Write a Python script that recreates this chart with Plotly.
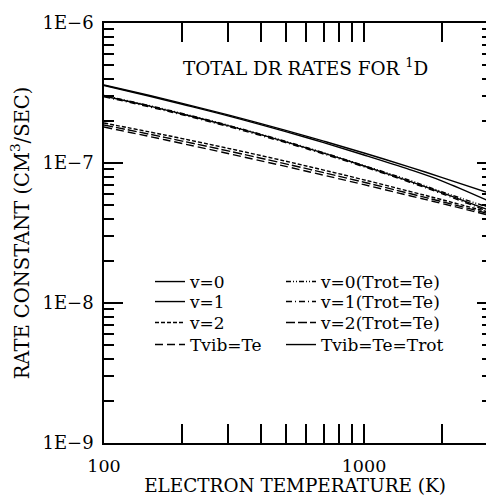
import plotly.graph_objects as go

# Electron temperature (K)
temperature = [100, 150, 200, 300, 500, 700, 1000, 1500, 2000, 3000]

# Rate constants (cm^3/s)
v0 = [3.607e-7, 3.035e-7, 2.669e-7, 2.207e-7, 1.711e-7, 1.433e-7, 1.179e-7, 9.35e-8, 7.87e-8, 6.14e-8]
v1 = [3.010e-7, 2.546e-7, 2.239e-7, 1.847e-7, 1.417e-7, 1.175e-7, 9.52e-8, 7.39e-8, 6.12e-8, 4.63e-8]
v2 = [1.931e-7, 1.666e-7, 1.494e-7, 1.273e-7, 1.030e-7, 8.90e-8, 7.58e-8, 6.27e-8, 5.46e-8, 4.47e-8]
tvib_te = [1.807e-7, 1.545e-7, 1.378e-7, 1.169e-7, 9.45e-8, 8.18e-8, 7.00e-8, 5.84e-8, 5.13e-8, 4.25e-8]
v0_trot = [3.035e-7, 2.567e-7, 2.258e-7, 1.862e-7, 1.428e-7, 1.184e-7, 9.60e-8, 7.51e-8, 6.22e-8, 4.83e-8]
v1_trot = [2.971e-7, 2.512e-7, 2.210e-7, 1.822e-7, 1.398e-7, 1.159e-7, 9.39e-8, 7.29e-8, 6.02e-8, 4.52e-8]
v2_trot = [1.868e-7, 1.604e-7, 1.434e-7, 1.220e-7, 9.86e-8, 8.53e-8, 7.29e-8, 6.05e-8, 5.29e-8, 4.36e-8]
tvib_te_trot = [3.578e-7, 2.996e-7, 2.626e-7, 2.171e-7, 1.675e-7, 1.398e-7, 1.141e-7, 8.97e-8, 7.43e-8, 5.38e-8]

series_names = ["v=0", "v=1", "v=2", "Tvib=Te",
                "v=0(Trot=Te)", "v=1(Trot=Te)", "v=2(Trot=Te)", "Tvib=Te=Trot"]
series_values = [v0, v1, v2, tvib_te, v0_trot, v1_trot, v2_trot, tvib_te_trot]

x_tick_vals = [100, 1000]
x_tick_text = ["100", "1000"]
x_minor_vals = [200, 300, 400, 500, 600, 700, 800, 900, 2000]
y_tick_vals = [1e-9, 1e-8, 1e-7, 1e-6]
y_tick_text = ["1E\u22129", "1E\u22128", "1E\u22127", "1E\u22126"]
y_minor_vals = [m * 10.0 ** e for e in (-9, -8, -7) for m in range(2, 10)]

dashes = ["solid", "solid", "4px,2px", "8px,4px",
          "5px,2px,1px,2px,1px,2px", "6px,3px,1px,3px", "9px,3px", "solid"]
legend_ids = ["legend", "legend2", "legend3", "legend4",
              "legend5", "legend6", "legend7", "legend8"]

FONT = "DejaVu Serif"
W, H = 486, 496
ML, MR, MT, MB = 104, 0, 23, 53
plot_w = W - ML - MR
plot_h = H - MT - MB

fig = go.Figure()
draw_order = [2, 3, 6, 4, 5, 1, 7, 0]
for i in draw_order:
    fig.add_trace(go.Scatter(
        x=temperature, y=series_values[i], mode="lines", name=series_names[i],
        line=dict(color="black", width=1.4, dash=dashes[i], shape="spline", smoothing=1.0),
        legend=legend_ids[i], showlegend=True,
    ))

# empty trace to anchor the right-hand axis
fig.add_trace(go.Scatter(x=[], y=[], yaxis="y2", showlegend=False, hoverinfo="skip"))

# legend layout: two columns, four rows
col_px = [150, 281]
row_px = [282, 302, 323, 345]
legend_layout = {}
for i, lid in enumerate(legend_ids):
    col = i // 4
    row = i % 4
    legend_layout[lid] = dict(
        x=(col_px[col] - ML) / plot_w,
        y=(MT + plot_h - row_px[row]) / plot_h,
        xanchor="left", yanchor="middle",
        bgcolor="rgba(0,0,0,0)", borderwidth=0,
        font=dict(family=FONT, size=17, color="black"),
        itemwidth=30, tracegroupgap=0,
    )

axis_common = dict(
    showline=True, linecolor="black", linewidth=1.5,
    showgrid=False, zeroline=False,
    ticks="inside", tickcolor="black", tickwidth=1.5,
)

fig.update_layout(
    width=W, height=H,
    margin=dict(l=ML, r=MR, t=MT, b=MB, pad=0),
    plot_bgcolor="white", paper_bgcolor="white",
    showlegend=True,
    xaxis=dict(
        type="log", range=[2, 2 + plot_w / 260.0],
        tickmode="array", tickvals=x_tick_vals, ticktext=x_tick_text,
        ticklen=19, mirror="allticks",
        tickfont=dict(family=FONT, size=17.5, color="black"),
        minor=dict(tickmode="array", tickvals=x_minor_vals, ticks="inside",
                   ticklen=10, tickwidth=1.5, tickcolor="black", showgrid=False),
        ticklabelstandoff=6,
        title=dict(text="ELECTRON TEMPERATURE (K)",
                   font=dict(family=FONT, size=18.4, color="black"), standoff=2),
        **axis_common,
    ),
    yaxis=dict(
        type="log", range=[-9, -6],
        tickmode="array", tickvals=y_tick_vals, ticktext=y_tick_text,
        ticklen=19, mirror=False,
        tickfont=dict(family=FONT, size=18, color="black"),
        minor=dict(tickmode="array", tickvals=y_minor_vals, ticks="inside",
                   ticklen=10, tickwidth=1.5, tickcolor="black", showgrid=False),
        ticklabelstandoff=5,
        title=dict(text="RATE CONSTANT (CM<sup>3</sup>/SEC)",
                   font=dict(family=FONT, size=19.5, color="black"), standoff=8),
        **axis_common,
    ),
    yaxis2=dict(
        type="log", range=[-9, -6], overlaying="y", side="right", anchor="x",
        tickmode="array", tickvals=y_tick_vals, showticklabels=False,
        ticklen=9,
        minor=dict(tickmode="array", tickvals=y_minor_vals, ticks="inside",
                   ticklen=4, tickwidth=1.5, tickcolor="black", showgrid=False),
        **axis_common,
    ),
    annotations=[dict(
        text="TOTAL DR RATES FOR <sup>1</sup>D",
        x=(305 - ML) / plot_w, y=(MT + plot_h - 67) / plot_h,
        xref="paper", yref="paper", xanchor="center", yanchor="middle",
        showarrow=False, font=dict(family=FONT, size=18.4, color="black"),
    )],
    **legend_layout,
)

fig.write_html("out.html")
